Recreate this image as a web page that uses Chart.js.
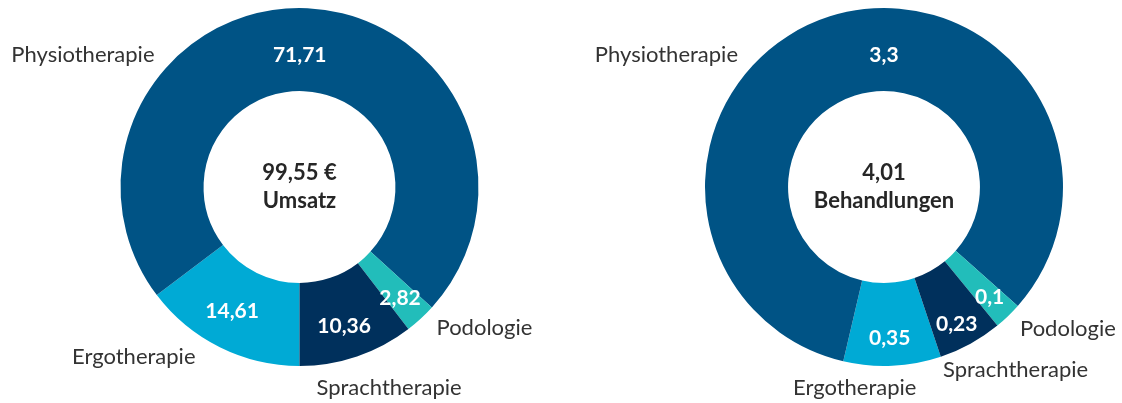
<!DOCTYPE html>
<html>
<head>
<meta charset="utf-8">
<script src="https://cdn.jsdelivr.net/npm/chart.js@4/dist/chart.umd.min.js"></script>
<style>
    body { margin: 0; background: #fff; }
    #wrap { position: relative; width: 1122px; height: 403px; }
    #wrap canvas { position: absolute; top: 0; }
</style>
</head>
<body>
<div id="wrap">
    <canvas id="umsatz" width="561" height="403" style="left:0"></canvas>
    <canvas id="behandlungen" width="561" height="403" style="left:561px"></canvas>
</div>
<script>
// Daten
const categories = ['Ergotherapie', 'Physiotherapie', 'Podologie', 'Sprachtherapie'];
const umsatzValues = [14.61, 71.71, 2.82, 10.36];
const behandlungenValues = [0.35, 3.3, 0.1, 0.23];
const umsatzTotal = '99,55 €';
const behandlungenTotal = '4,01';
const umsatzTitle = 'Umsatz';
const behandlungenTitle = 'Behandlungen';

// Farben
const colors = ['#00AAD5', '#005385', '#22BDBA', '#00305C'];
const FONT = 'Lato';

// Position der Kategorie-Beschriftungen relativ zur Mitte [dx, dy, align]
const labelPosUmsatz = [[-104, 170, 'right'], [-145, -132, 'right'], [137, 141, 'left'], [17, 201, 'left']];
const labelPosBehandlungen = [[-91, 201, 'left'], [-146, -132, 'right'], [136, 142, 'left'], [59, 183, 'left']];
// Verschiebung der Wertbeschriftung [Radius px, Winkel Grad im Uhrzeigersinn]
const valueShiftUmsatz = [[4, 2], [-5.5, -2.5], [12.5, 0.5], [9, 1]];
const valueShiftBehandlungen = [[13.5, 0.5], [-5.5, 17.6], [15, 0], [18, 1]];

// Plugin: Werte, Kategorien und Mitteltext zeichnen
const donutLabels = {
    id: 'donutLabels',
    afterDatasetsDraw(chart, args, opts) {
        const ctx = chart.ctx;
        const meta = chart.getDatasetMeta(0);
        const values = chart.data.datasets[0].data;
        ctx.save();
        ctx.textBaseline = 'middle';
        meta.data.forEach((arc, i) => {
            const p = arc.getProps(['x', 'y', 'startAngle', 'endAngle', 'innerRadius', 'outerRadius']);
            const shift = opts.valueShift[i];
            const mid = (p.startAngle + p.endAngle) / 2 + shift[1] * Math.PI / 180;
            const r = (p.innerRadius + p.outerRadius) / 2 + shift[0];
            // Wert
            ctx.fillStyle = '#ffffff';
            ctx.font = `bold 21px ${FONT}`;
            ctx.textAlign = 'center';
            ctx.fillText(values[i].toLocaleString('de-DE'), p.x + Math.cos(mid) * r, p.y + Math.sin(mid) * r);
            // Kategorie
            const pos = opts.positions[i];
            ctx.fillStyle = '#333333';
            ctx.font = `22px ${FONT}`;
            ctx.textAlign = pos[2];
            ctx.fillText(chart.data.labels[i], p.x + pos[0], p.y + pos[1]);
        });
        // Mitte
        const c = meta.data[0];
        ctx.fillStyle = '#262626';
        ctx.font = `bold 22px ${FONT}`;
        ctx.textAlign = 'center';
        ctx.fillText(opts.total, c.x, c.y - 14);
        ctx.fillText(opts.title, c.x, c.y + 14);
        ctx.restore();
    }
};

function makeDonut(canvasId, values, rotation, padding, positions, total, title, valueShift) {
    const config = {
        type: 'doughnut',
        data: {
            labels: categories,
            datasets: [{
                data: values,
                backgroundColor: colors,
                borderWidth: 0
            }]
        },
        options: {
            responsive: false,
            animation: false,
            rotation: rotation,
            cutout: '53.6%',
            layout: { padding: padding },
            plugins: {
                legend: { display: false },
                tooltip: { enabled: false },
                donutLabels: { positions: positions, total: total, title: title, valueShift: valueShift }
            }
        },
        plugins: [donutLabels]
    };
    return new Chart(document.getElementById(canvasId), config);
}

makeDonut('umsatz', umsatzValues, 180,
    { left: 120.5, right: 82.5, top: 8, bottom: 37 },
    labelPosUmsatz, umsatzTotal, umsatzTitle, valueShiftUmsatz);
makeDonut('behandlungen', behandlungenValues, 161.5,
    { left: 144, right: 59, top: 8, bottom: 37 },
    labelPosBehandlungen, behandlungenTotal, behandlungenTitle, valueShiftBehandlungen);
</script>
</body>
</html>
